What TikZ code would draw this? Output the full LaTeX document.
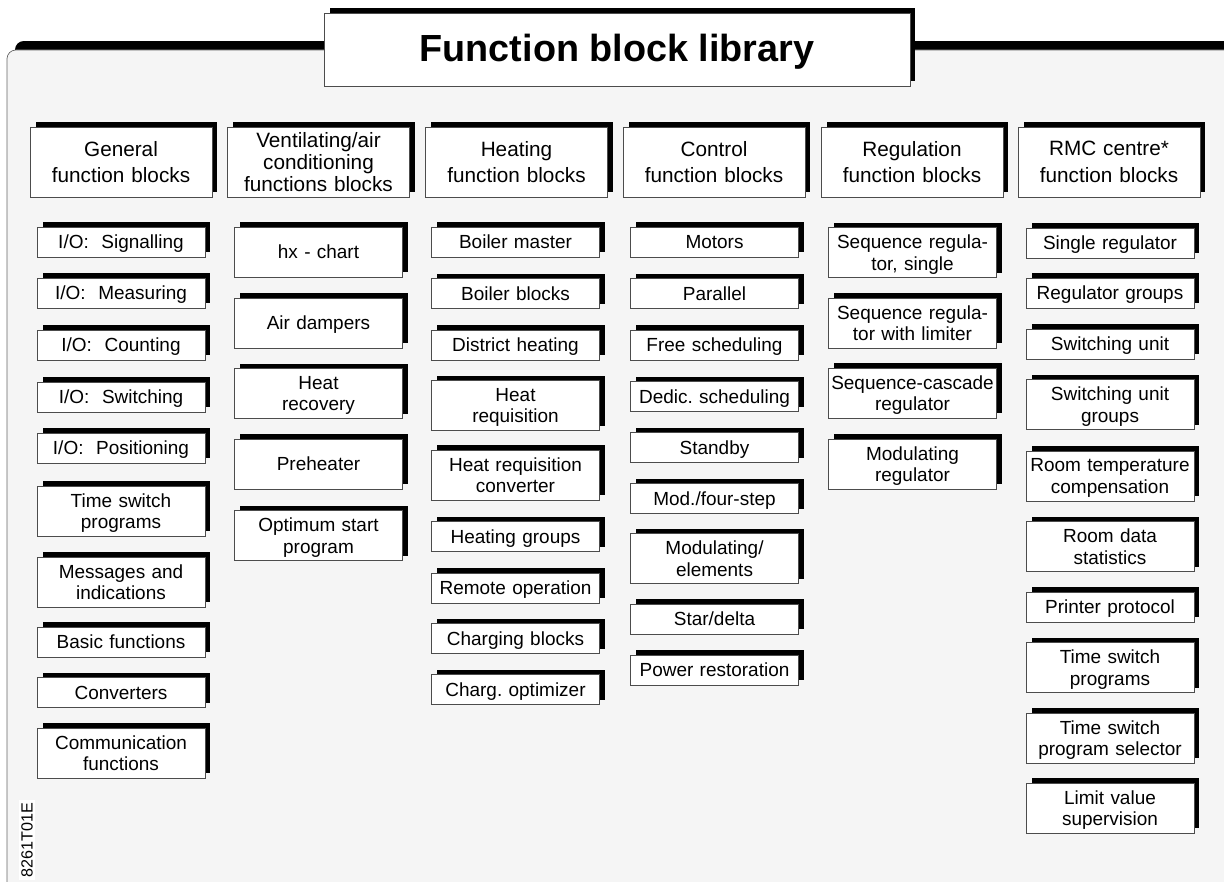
\documentclass[tikz,border=0pt]{standalone}
\usepackage{fontspec}
\setmainfont{Liberation Sans}
\frenchspacing
\usetikzlibrary{shadows}
\tikzset{
  hardshadow/.style={drop shadow={shadow xshift=.11cm, shadow yshift=.1cm, fill=black, opacity=1}},
  fblock/.style={draw=black!70, line width=.5pt, fill=white, hardshadow, inner sep=0pt, align=center},
  item/.style={fblock, text width=3.36cm, font=\fontsize{10.8}{12.3}\selectfont},
  head/.style={fblock, text width=3.64cm, minimum height=1.4cm, font=\fontsize{11.8}{15.3}\selectfont},
}

\begin{document}
\begin{tikzpicture}[x=.02cm, y=-.02cm]
\useasboundingbox (0,0) rectangle (1224,882);
\begin{scope}
\clip (0,0) rectangle (1224,882);
\draw[black!60, fill=gray!8, rounded corners=5pt, drop shadow={shadow xshift=.16cm, shadow yshift=.18cm, fill=black, opacity=1}] (7,50) rectangle (1260,920);
\end{scope}
\node[fblock, minimum width=11.72cm, minimum height=1.46cm, text depth=2pt, font=\fontsize{21.5}{24}\selectfont\bfseries] (title) at (617,49.5) {Function block library};
\foreach \x/\n/\d/\t in {121/gen/15.3/{General\\function blocks}, 318.5/vent/24.6/{Ventilating/air\\[-3pt]conditioning\\[-3pt]functions blocks}, 516.5/heat/15.3/{Heating\\function blocks}, 714/ctrl/15.3/{Control\\function blocks}, 912/reg/15.3/{Regulation\\function blocks}, 1109/rmc/15.3/{RMC centre*\\function blocks}} {
  \node[head, text depth=\d pt] (\n) at (\x,162) {\t};
}
\foreach \y/\h/\t [count=\i, evaluate=\h as \d using (\h-30)*0.615] in {242/30/{I/O:~~Signalling}, 293/30/{I/O:~~Measuring}, 345/30/{I/O:~~Counting}, 397/30/{I/O:~~Switching}, 448/30/{I/O:~~Positioning}, 511/50/{Time switch\\programs}, 582/50/{Messages and\\indications}, 642/30/{Basic functions}, 692.5/30/{Converters}, 753/50/{Communication\\functions}} {
  \node[item, minimum height=\h*.02cm, text depth=\d pt] (gen-\i) at (121,\y) {\t};
}
\foreach \y/\h/\t [count=\i, evaluate=\h as \d using (\h-30)*0.615] in {252/30/{hx - chart}, 323/30/{Air dampers}, 393.5/50/{Heat\\recovery}, 464/30/{Preheater}, 535.5/50/{Optimum start\\program}} {
  \node[item, minimum height=50*.02cm, text depth=\d pt] (vent-\i) at (318.5,\y) {\t};
}
\foreach \y/\h/\t [count=\i, evaluate=\h as \d using (\h-30)*0.615] in {242/30/{Boiler master}, 293.5/30/{Boiler blocks}, 345/30/{District heating}, 405.5/50/{Heat\\requisition}, 475/50/{Heat requisition\\converter}, 536.5/30/{Heating groups}, 588/30/{Remote operation}, 638.5/30/{Charging blocks}, 689.5/30/{Charg. optimizer}} {
  \node[item, minimum height=\h*.02cm, text depth=\d pt] (heat-\i) at (515.5,\y) {\t};
}
\foreach \y/\h/\t [count=\i, evaluate=\h as \d using (\h-30)*0.615] in {242/30/{Motors}, 293.5/30/{Parallel}, 345/30/{Free scheduling}, 396.5/30/{Dedic. scheduling}, 447.5/30/{Standby}, 498.5/30/{Mod./four-step}, 558.5/50/{Modulating/\\elements}, 619/30/{Star/delta}, 670/30/{Power restoration}} {
  \node[item, minimum height=\h*.02cm, text depth=\d pt] (ctrl-\i) at (714.5,\y) {\t};
}
\foreach \y/\h/\t [count=\i, evaluate=\h as \d using (\h-30)*0.615] in {252.5/50/{Sequence regula-\\tor, single}, 323/50/{Sequence regula-\\tor with limiter}, 393/50/{Sequence-cascade\\regulator}, 464/50/{Modulating\\regulator}} {
  \node[item, minimum height=\h*.02cm, text depth=\d pt] (reg-\i) at (912.5,\y) {\t};
}
\foreach \y/\h/\t [count=\i, evaluate=\h as \d using (\h-30)*0.615] in {243/30/{Single regulator}, 293/30/{Regulator groups}, 344/30/{Switching unit}, 404.5/50/{Switching unit\\groups}, 476/50/{Room temperature\\compensation}, 546.5/50/{Room data\\statistics}, 607/30/{Printer protocol}, 667.5/50/{Time switch\\programs}, 738/50/{Time switch\\program selector}, 808/50/{Limit value\\supervision}} {
  \node[item, minimum height=\h*.02cm, text depth=\d pt] (rmc-\i) at (1110,\y) {\t};
}
\node[fill=white, rotate=90, inner sep=1.5pt, font=\fontsize{9.2}{11}\selectfont] (code) at (27,840) {8261T01E};
\end{tikzpicture}
\end{document}
